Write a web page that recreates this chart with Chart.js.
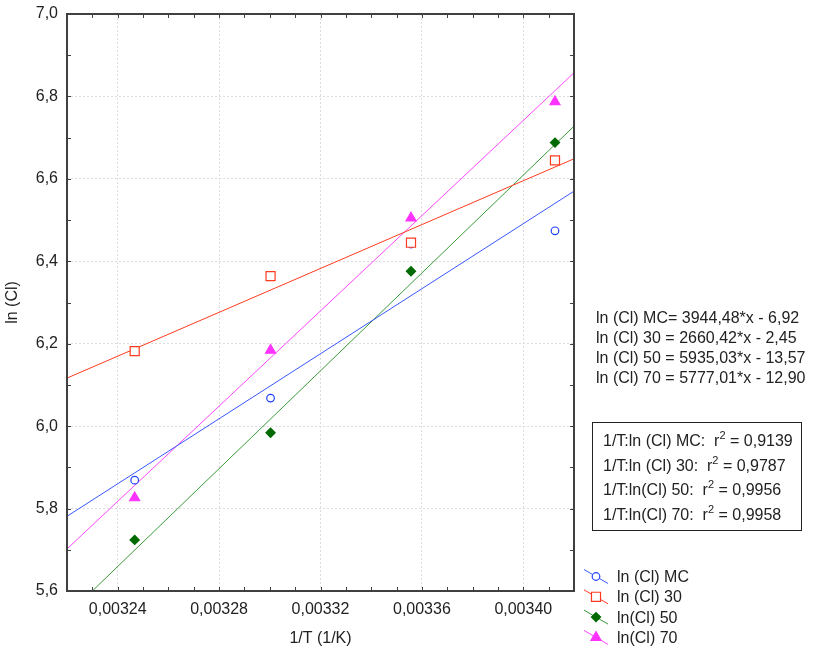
<!DOCTYPE html>
<html>
<head>
<meta charset="utf-8">
<script src="https://cdn.jsdelivr.net/npm/chart.js@4.4.0/dist/chart.umd.min.js"></script>
<style>
  body { margin: 0; background: #fff; }
  #wrap { position: relative; width: 815px; height: 650px; }
  .txt { position: absolute; font: 16px "Liberation Sans", Arial, sans-serif; color: #222; white-space: nowrap; }
  #r2box { border: 1px solid #222; box-sizing: border-box; padding: 6px 0 0 10px; line-height: 24.7px; }
  sup { font-size: 11px; line-height: 0; vertical-align: 7px; }
</style>
</head>
<body>
<div id="wrap">
  <canvas id="chart" width="815" height="650"></canvas>
  <div class="txt" id="eqs" style="left:596px; top:308px; line-height:20px;"></div>
  <div class="txt" id="r2box" style="left:592px; top:422px; width:210px; height:109px;"></div>
  <div class="txt" id="legend" style="left:617px; top:567px; line-height:20.3px;"></div>
</div>
<script>
  const FONT = '"Liberation Sans", Arial, sans-serif';

  // 1/T values (1/K)
  const invT = [0.0032467, 0.0033003, 0.0033557, 0.0034125];

  // ln (Cl) values
  const lnClMC = [5.869, 6.068, 6.442, 6.474];
  const lnCl30 = [6.182, 6.364, 6.445, 6.645];
  const lnCl50 = [5.724, 5.984, 6.376, 6.688];
  const lnCl70 = [5.826, 6.184, 6.505, 6.787];

  // fitted lines as printed on the chart
  const slopes = [3944.48, 2660.42, 5935.03, 5777.01];
  const intercepts = [-6.92, -2.45, -13.57, -12.90];
  const r2Values = ['0,9139', '0,9787', '0,9956', '0,9958'];

  const seriesNames = ['ln (Cl) MC', 'ln (Cl) 30', 'ln(Cl) 50', 'ln(Cl) 70'];
  const r2Names = ['1/T:ln (Cl) MC:', '1/T:ln (Cl) 30:', '1/T:ln(Cl) 50:', '1/T:ln(Cl) 70:'];

  const xMin = 0.00322, xMax = 0.00342;
  const yMin = 5.6, yMax = 7.0;

  const series = [lnClMC, lnCl30, lnCl50, lnCl70];
  const styles = [
    { line: '#3a58ff', border: '#2040ff', fill: '#ffffff', pointStyle: 'circle', radius: 3.8 },
    { line: '#ff3b1f', border: '#ff3b1f', fill: '#ffffff', pointStyle: 'rect', radius: 6.4 },
    { line: '#3a9a3a', border: '#006a00', fill: '#006a00', pointStyle: 'rectRot', radius: 4.6 },
    { line: '#ff45ff', border: '#ff33ff', fill: '#ff33ff', pointStyle: 'triangle', radius: 5.8 }
  ];

  const datasets = [];
  series.forEach((vals, i) => {
    datasets.push({
      label: seriesNames[i] + ' fit',
      data: [xMin, xMax].map(x => ({ x: x, y: slopes[i] * x + intercepts[i] })),
      showLine: true,
      borderColor: styles[i].line,
      borderWidth: 1,
      pointRadius: 0,
      order: 10
    });
  });
  series.forEach((vals, i) => {
    datasets.push({
      label: seriesNames[i],
      data: vals.map((v, j) => ({ x: invT[j], y: v })),
      showLine: false,
      pointStyle: styles[i].pointStyle,
      pointRadius: styles[i].radius,
      pointBorderWidth: 1.2,
      pointBorderColor: styles[i].border,
      pointBackgroundColor: styles[i].fill,
      order: 5 - i
    });
  });

  const comma = (v, d) => v.toFixed(d).replace('.', ',');

  // frame with inward ticks on all four sides + legend symbols
  const framePlugin = {
    id: 'frame',
    afterDatasetsDraw(chart) {
      const ctx = chart.ctx;
      const a = chart.chartArea;
      const sx = chart.scales.x, sy = chart.scales.y;
      ctx.save();
      ctx.strokeStyle = '#404040';
      ctx.lineWidth = 1;
      ctx.beginPath();
      sx.ticks.forEach(t => {
        const px = Math.round(sx.getPixelForValue(t.value)) + 0.5;
        ctx.moveTo(px, a.bottom); ctx.lineTo(px, a.bottom - 4);
        ctx.moveTo(px, a.top); ctx.lineTo(px, a.top + 4);
      });
      sy.ticks.forEach(t => {
        const py = Math.round(sy.getPixelForValue(t.value)) + 0.5;
        ctx.moveTo(a.left, py); ctx.lineTo(a.left + 4, py);
        ctx.moveTo(a.right, py); ctx.lineTo(a.right - 4, py);
      });
      ctx.stroke();
      ctx.lineWidth = 2;
      ctx.strokeRect(a.left, a.top, a.right - a.left, a.bottom - a.top);

      // legend symbols
      styles.forEach((s, i) => {
        const cy = 576.5 + i * 20.3;
        ctx.strokeStyle = s.line;
        ctx.lineWidth = 1;
        ctx.beginPath();
        ctx.moveTo(584, cy - 7);
        ctx.lineTo(608, cy + 7);
        ctx.stroke();
        ctx.strokeStyle = s.border;
        ctx.fillStyle = s.fill;
        ctx.lineWidth = 1.2;
        Chart.helpers.drawPoint(ctx, { pointStyle: s.pointStyle, radius: s.radius, rotation: 0, borderWidth: 1.2 }, 596, cy);
      });
      ctx.restore();
    }
  };

  new Chart(document.getElementById('chart'), {
    type: 'scatter',
    data: { datasets: datasets },
    options: {
      responsive: false,
      animation: false,
      layout: { padding: { top: 14, right: 241, bottom: 0, left: 0 } },
      plugins: { legend: { display: false }, tooltip: { enabled: false } },
      scales: {
        x: {
          type: 'linear',
          min: xMin,
          max: xMax,
          afterFit: s => { s.height = 59; s.paddingLeft = 0; s.paddingRight = 0; },
          ticks: {
            stepSize: 0.00001,
            autoSkip: false,
            maxRotation: 0,
            padding: 9,
            color: '#222',
            font: { family: FONT, size: 16 },
            callback: v => Math.round(v * 1e5) % 4 === 0 ? comma(v, 5) : ''
          },
          grid: {
            drawTicks: false,
            lineWidth: 1,
            color: c => (c.tick && Math.round(c.tick.value * 1e5) % 4 === 0) ? '#dcdcdc' : 'rgba(0,0,0,0)'
          },
          border: { display: false, dash: [2, 2] },
          title: { display: true, text: '1/T (1/K)', color: '#222', font: { family: FONT, size: 16 }, padding: { top: 0, bottom: 2 } }
        },
        y: {
          type: 'linear',
          min: yMin,
          max: yMax,
          afterFit: s => { s.width = 67; s.paddingTop = 0; s.paddingBottom = 0; },
          ticks: {
            stepSize: 0.1,
            autoSkip: false,
            padding: 9,
            color: '#222',
            font: { family: FONT, size: 16 },
            callback: v => Math.round(v * 10) % 2 === 0 ? comma(v, 1) : ''
          },
          grid: {
            drawTicks: false,
            lineWidth: 1,
            color: c => (c.tick && Math.round(c.tick.value * 10) % 2 === 0) ? '#dcdcdc' : 'rgba(0,0,0,0)'
          },
          border: { display: false, dash: [2, 2] },
          title: { display: true, text: 'ln (Cl)', color: '#222', font: { family: FONT, size: 16 }, padding: { top: 3, bottom: 0 } }
        }
      }
    },
    plugins: [framePlugin]
  });

  document.getElementById('eqs').innerHTML = seriesNames.map((n, i) => {
    const name = i === 0 ? 'ln (Cl) MC=' : (i === 1 ? 'ln (Cl) 30 =' : 'ln (Cl) ' + (i === 2 ? '50' : '70') + ' =');
    const b = intercepts[i];
    return name + ' ' + comma(slopes[i], 2) + '*x ' + (b < 0 ? '-' : '+') + ' ' + comma(Math.abs(b), 2);
  }).join('<br>');

  document.getElementById('r2box').innerHTML = r2Names.map((n, i) =>
    n + '&nbsp; r<sup>2</sup> = ' + r2Values[i]).join('<br>');

  document.getElementById('legend').innerHTML = seriesNames.join('<br>');
</script>
</body>
</html>
